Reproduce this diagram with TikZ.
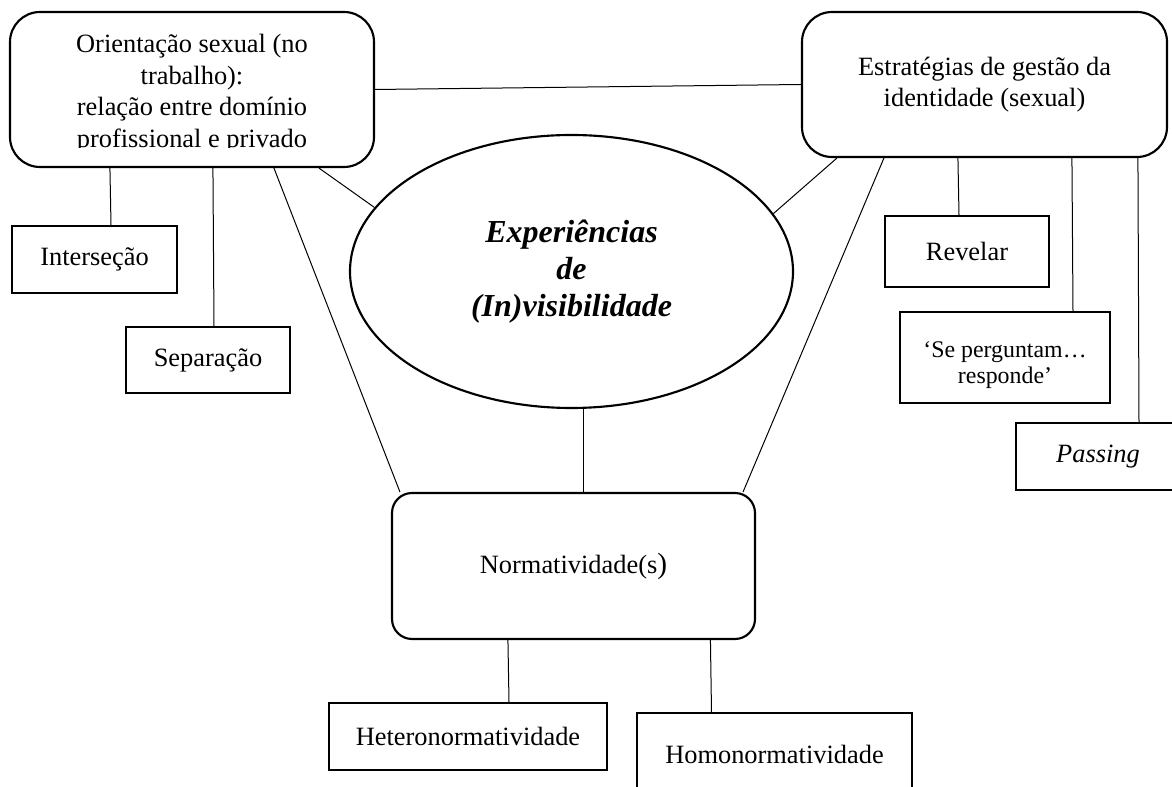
\documentclass[tikz,border=0pt]{standalone}
\usepackage{fontspec}
\setmainfont{Liberation Serif}
\usetikzlibrary{shapes.geometric,calc}
\begin{document}
\begin{tikzpicture}[x=0.75pt,y=-0.75pt,
  boxline/.style={line width=1.6pt},
  conn/.style={line width=0.75pt},
  ftxt/.style={font=\fontsize{19.8pt}{23.6pt}\selectfont,align=center},
  stxt/.style={font=\fontsize{17.9pt}{19.5pt}\selectfont,align=center},
  rbox/.style={draw,boxline,rectangle,rounded corners=22.5pt,inner sep=0pt},
  sbox/.style={draw,boxline,rectangle,inner sep=0pt,ftxt}]
\useasboundingbox (0,0) rectangle (1172,787);
\fill[white] (0,0) rectangle (1172,787);
\clip (0,0) rectangle (1172,787);

% main boxes
\node[rbox,minimum width=273pt,minimum height=116.25pt] (orient) at (192,89.5) {};
\begin{scope}
\clip (10,12) rectangle (374,148);
\node[ftxt] (orienttext) at (192,93.5) {Orientação sexual (no\\trabalho):\\relação entre domínio\\profissional e privado};
\end{scope}
\node[rbox,ftxt,minimum width=273.75pt,minimum height=108.75pt] (estrat) at (984.5,84.5) {Estratégias de gestão da\\identidade (sexual)};
\node[draw,boxline,ellipse,minimum width=332.25pt,minimum height=204.75pt,inner sep=0pt,align=center,
  font=\fontsize{24pt}{27.75pt}\selectfont\bfseries\itshape] (exper) at (571.5,271.5) {Experiências\\de\\(In)visibilidade};
\node[rbox,ftxt,rounded corners=15pt,minimum width=272.25pt,minimum height=109.5pt] (norm) at (573.5,566)
  {Normatividade(s{\fontsize{22pt}{22pt}\selectfont)}};

% small boxes
\node[sbox,minimum width=123.75pt,minimum height=50.25pt] (inter) at (94.5,259.5) {Interseção};
\node[sbox,minimum width=123pt,minimum height=49.5pt] (separ) at (208,360) {Separação};
\node[sbox,minimum width=123pt,minimum height=53.25pt] (revel) at (967,251.5) {Revelar};
\node[sbox,minimum width=157.5pt,minimum height=68.25pt] (pergunt) at (1005,357.5) {};
\node[stxt] (pergtext) at (1005,365) {‘Se perguntam…\\responde’};
\node[sbox,minimum width=123pt,minimum height=50.25pt] (passing) at (1098,456.5) {\textit{Passing}};
\node[sbox,minimum width=208.5pt,minimum height=50.25pt] (hetero) at (468,736.5) {Heteronormatividade};
\node[sbox,minimum width=206.25pt,minimum height=61.5pt] (homo) at (774.5,754) {Homonormatividade};

% connectors
\draw[conn] (orient.east) -- (estrat.west);
\draw[conn] ($(orient.south west)+(101,0)$) -- ($(inter.north)+(16.5,0)$);
\draw[conn] ($(orient.south west)+(204,0)$) -- ($(separ.north)+(6,0)$);
\draw[conn] ($(orient.south west)+(265,0)$) -- ($(norm.north west)+(9,0)$);
\draw[conn] ($(orient.south west)+(310,0)$) -- (exper.162);
\draw[conn] ($(estrat.south west)+(36,0)$) -- (exper.16);
\draw[conn] ($(estrat.south west)+(83,0)$) -- ($(norm.north east)+(-13,0)$);
\draw[conn] ($(estrat.south west)+(157,0)$) -- ($(revel.north)+(-8,0)$);
\draw[conn] ($(estrat.south west)+(271,0)$) -- ($(pergunt.north)+(68,0)$);
\draw[conn] ($(estrat.south west)+(337,0)$) -- ($(passing.north)+(41,0)$);
\draw[conn] ($(exper.south)+(11.5,0)$) -- ($(norm.north)+(9.5,0)$);
\draw[conn] ($(norm.south west)+(117,0)$) -- ($(hetero.north)+(41,0)$);
\draw[conn] ($(norm.south west)+(319.5,0)$) -- ($(homo.north)+(-63,0)$);
\end{tikzpicture}
\end{document}
